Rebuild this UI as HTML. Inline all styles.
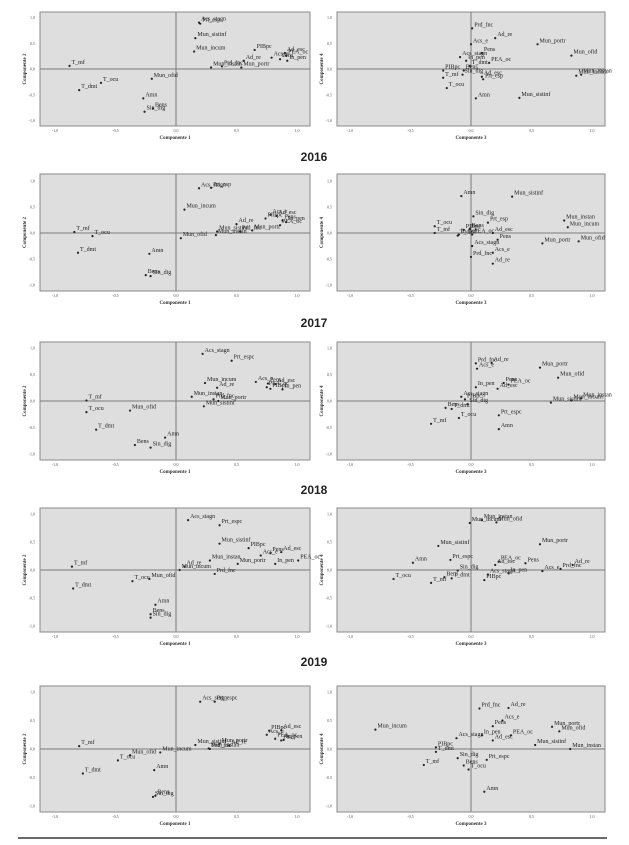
<!DOCTYPE html>
<html><head><meta charset="utf-8">
<style>
body{margin:0;background:#fff;width:629px;height:845px;overflow:hidden;font-family:"Liberation Serif",serif}
svg{position:absolute;left:0;top:0}
.yr{font-family:"Liberation Sans",sans-serif;font-weight:bold;font-size:12px;fill:#222}
</style></head><body>
<svg id="fig" width="629" height="845"></svg>
<script>
// ---- data (component loadings) ----
const p1Names=["Acs_stagn","Prt_esp","Mun_sistinf","Mun_incum","Prd_fnc","Mun_instan","Ad_re","Mun_portr","PIBpc","Acs_e","Pens","Ad_esc","PEA_oc","In_pen","T_mf","T_ocu","T_dmt","Mun_ofid","Amn","Bens","Sin_dig"];
const p1X=[0.19,0.20,0.16,0.15,0.38,0.29,0.56,0.54,0.65,0.79,0.86,0.90,0.91,0.92,-0.88,-0.62,-0.80,-0.20,-0.27,-0.19,-0.26];
const p1Y=[0.90,0.88,0.60,0.34,0.05,0.03,0.16,0.03,0.37,0.22,0.19,0.31,0.26,0.16,0.06,-0.27,-0.41,-0.19,-0.57,-0.77,-0.83];
const p2Names=["Prd_fnc","Ad_re","Acs_e","Mun_portr","Mun_ofid","Pens","Acs_stagn","In_pen","T_dmt","PEA_oc","Mun_instan","Mun_incum","PIBpc","Bens","T_mf","Sin_dig","Ad_esc","Prt_esp","T_ocu","Amn","Mun_sistinf"];
const p2X=[0.01,0.20,0.00,0.55,0.83,0.09,-0.09,-0.04,-0.01,0.15,0.91,0.87,-0.23,-0.06,-0.23,-0.07,0.09,0.10,-0.20,0.04,0.40];
const p2Y=[0.79,0.60,0.48,0.48,0.26,0.31,0.23,0.16,0.06,0.12,-0.11,-0.13,-0.03,-0.03,-0.17,-0.11,-0.15,-0.20,-0.37,-0.57,-0.56];
const p3Names=["Acs_stagn","Prt_esp","Mun_incum","Ad_re","Acs_e","Ad_esc","Pens","PIBpc","PEA_oc","In_pen","Mun_sistinf","Prd_fnc","Mun_portr","Mun_ofid","Mun_instan","T_mf","T_ocu","T_dmt","Amn","Bens","Sin_dig"];
const p3X=[0.19,0.29,0.07,0.50,0.78,0.83,0.88,0.74,0.86,0.91,0.34,0.53,0.63,0.04,0.33,-0.84,-0.69,-0.81,-0.22,-0.25,-0.21];
const p3Y=[0.86,0.87,0.45,0.17,0.35,0.33,0.24,0.28,0.15,0.21,0.03,0.03,0.05,-0.10,-0.04,0.02,-0.06,-0.38,-0.40,-0.81,-0.83];
const p4Names=["Amn","Mun_sistinf","Sin_dig","Prt_esp","T_ocu","Mun_instan","Mun_incum","PIBpc","Bens","In_pen","Ad_esc","T_mf","T_dmt","PEA_oc","Pens","Mun_portr","Mun_ofid","Acs_stagn","Acs_e","Prd_fnc","Ad_re"];
const p4X=[-0.08,0.34,0.02,0.14,-0.30,0.77,0.80,-0.06,-0.01,-0.10,0.18,-0.30,-0.11,0.01,0.22,0.59,0.89,0.01,0.18,0.00,0.18];
const p4Y=[0.71,0.70,0.32,0.20,0.13,0.24,0.11,0.06,0.08,-0.03,0.00,0.00,-0.05,-0.03,-0.13,-0.20,-0.16,-0.25,-0.38,-0.46,-0.59];
const p5Names=["Acs_stagn","Prt_espc","Mun_incum","Ad_re","Acs_e","Pens","Ad_esc","PEA_oc","PIBpc","In_pen","Mun_instan","Prd_fnc","Mun_portr","Mun_sistinf","T_mf","T_ocu","Mun_ofid","T_dmt","Amn","Bens","Sin_dig"];
const p5X=[0.22,0.46,0.24,0.34,0.66,0.76,0.82,0.75,0.78,0.88,0.13,0.31,0.35,0.23,-0.74,-0.74,-0.38,-0.66,-0.09,-0.34,-0.21];
const p5Y=[0.89,0.76,0.34,0.25,0.36,0.33,0.32,0.26,0.23,0.22,0.08,0.03,0.00,-0.10,0.01,-0.21,-0.18,-0.54,-0.69,-0.83,-0.88];
const p6Names=["Prd_fnc","Ad_re","Acs_e","Mun_portr","Mun_ofid","Pens","PEA_oc","In_pen","Ad_esc","Acs_stagn","PIBpc","Mun_instan","Mun_incum","Mun_sistinf","Bens","T_dmt","Sin_dig","Prt_espc","T_mf","T_ocu","Amn"];
const p6X=[0.04,0.17,0.05,0.57,0.72,0.27,0.31,0.04,0.22,-0.08,-0.05,0.91,0.83,0.66,-0.21,-0.16,-0.03,0.23,-0.33,-0.10,0.23];
const p6Y=[0.71,0.72,0.61,0.63,0.44,0.34,0.31,0.26,0.23,0.08,0.03,0.05,0.01,-0.03,-0.13,-0.15,-0.06,-0.27,-0.43,-0.32,-0.53];
const p7Names=["Acs_stagn","Prt_espc","Mun_sistinf","PIBpc","Acs_e","Pens","Ad_esc","PEA_oc","In_pen","Mun_instan","Ad_re","Mun_incum","Mun_portr","Prd_fnc","T_mf","T_dmt","T_ocu","Mun_ofid","Amn","Bens","Sin_dig"];
const p7X=[0.10,0.36,0.36,0.60,0.70,0.78,0.87,1.01,0.82,0.28,0.07,0.03,0.51,0.32,-0.86,-0.85,-0.36,-0.22,-0.17,-0.21,-0.21];
const p7Y=[0.89,0.80,0.47,0.39,0.26,0.30,0.32,0.17,0.11,0.17,0.06,0.00,0.11,-0.07,0.06,-0.33,-0.20,-0.16,-0.62,-0.79,-0.85];
const p8Names=["Mun_incum","Mun_ofid","Mun_instan","Mun_sistinf","Mun_portr","Amn","Prt_espc","PEA_oc","Pens","Sin_dig","Ad_esc","Acs_e","Prd_fnc","Ad_re","T_ocu","Bens","Acs_stagn","T_mf","T_dmt","PIBpc","In_pen"];
const p8X=[-0.01,0.21,0.09,-0.27,0.57,-0.48,-0.17,0.23,0.45,-0.11,0.20,0.59,0.74,0.84,-0.64,-0.22,0.14,-0.33,-0.16,0.11,0.31];
const p8Y=[0.84,0.85,0.89,0.43,0.46,0.13,0.18,0.15,0.12,-0.01,0.09,-0.02,0.02,0.09,-0.16,-0.13,-0.08,-0.23,-0.15,-0.18,-0.06];
const p9Names=["Acs_stagn","Prt_espc","PIBpc","Ad_esc","Acs_e","PEA_oc","In_pen","Pens","Mun_portr","Ad_re","Mun_sistinf","Mun_instan","Prd_fnc","Mun_incum","Mun_ofid","T_mf","T_ocu","T_dmt","Amn","Bens","Sin_dig"];
const p9X=[0.20,0.32,0.77,0.87,0.75,0.82,0.89,0.87,0.36,0.44,0.16,0.27,0.28,-0.13,-0.38,-0.80,-0.48,-0.77,-0.18,-0.17,-0.19];
const p9Y=[0.83,0.83,0.32,0.33,0.25,0.18,0.16,0.15,0.09,0.06,0.07,0.01,0.00,-0.06,-0.11,0.05,-0.20,-0.43,-0.37,-0.82,-0.84];
const p10Names=["Prd_fnc","Ad_re","Acs_e","Pens","Mun_portr","Mun_ofid","PEA_oc","Acs_stagn","In_pen","Ad_esc","Mun_sistinf","Mun_instan","Mun_incum","PIBpc","T_dmt","Sin_dig","Prt_espc","T_mf","Bens","T_ocu","Amn"];
const p10X=[0.07,0.31,0.26,0.18,0.67,0.73,0.33,-0.12,0.09,0.18,0.53,0.82,-0.79,-0.29,-0.29,-0.11,0.13,-0.39,-0.06,-0.02,0.11];
const p10Y=[0.71,0.72,0.50,0.40,0.39,0.31,0.24,0.19,0.24,0.15,0.07,0.00,0.34,0.03,-0.05,-0.16,-0.19,-0.28,-0.29,-0.36,-0.75];
const tickLabels=["-1,0","-0,5","0,0","0,5","1,0"];
const tickVals=[-1,-0.5,0,0.5,1];
const years=["2016","2017","2018","2019"];

// ---- layout ----
const NS="http://www.w3.org/2000/svg";
const svg=document.getElementById('fig');
function mk(tag,attrs,parent){const e=document.createElementNS(NS,tag);for(const k in attrs)e.setAttribute(k,attrs[k]);(parent||svg).appendChild(e);return e;}
const rows=[{top:12,bot:126,zy:69,uy:51.5},{top:174,bot:291,zy:233,uy:52},{top:342,bot:460,zy:401,uy:53},{top:508,bot:632,zy:570,uy:56},{top:686,bot:812,zy:749,uy:57}];
const cols=[{l:40,r:310,zx:176,ux:121},{l:337,r:605,zx:471,ux:121}];
const panels=[[p1Names,p1X,p1Y],[p2Names,p2X,p2Y],[p3Names,p3X,p3Y],[p4Names,p4X,p4Y],[p5Names,p5X,p5Y],[p6Names,p6X,p6Y],[p7Names,p7X,p7Y],[p8Names,p8X,p8Y],[p9Names,p9X,p9Y],[p10Names,p10X,p10Y]];
const axisNames=[["Componente 1","Componente 2"],["Componente 3","Componente 4"]];

panels.forEach((p,i)=>{
  const R=rows[Math.floor(i/2)],C=cols[i%2];
  const sx=v=>C.zx+v*C.ux, sy=v=>R.zy-v*R.uy;
  const g=mk('g',{});
  
  
  const bg=mk('rect',{x:C.l,y:R.top,width:C.r-C.l,height:R.bot-R.top,fill:'#dedede',stroke:'#8a8a8a','stroke-width':1},g);
  
  
  const hz=mk('line',{x1:C.l,x2:C.r,y1:sy(0),y2:sy(0),stroke:'#7a7a7a','stroke-width':1},g);
  
  
  const vz=mk('line',{x1:sx(0),x2:sx(0),y1:R.top,y2:R.bot,stroke:'#7a7a7a','stroke-width':1},g);
  
  
  tickVals.forEach((v,k)=>{
    const tx=mk('text',{x:sx(v),y:R.bot+6,'font-size':4,'text-anchor':'middle',fill:'#555'},g);
    tx.textContent=tickLabels[k];
    
    
    const ty=mk('text',{x:C.l-5,y:sy(v)+1.5,'font-size':4,'text-anchor':'end',fill:'#555'},g);
    ty.textContent=tickLabels[k];
    
    
  });
  const xt=mk('text',{x:(C.l+C.r)/2,y:R.bot+13,'font-size':5,'text-anchor':'middle',fill:'#333','font-weight':'bold'},g);
  xt.textContent=axisNames[i%2][0];
  
  
  const yx=C.l-14, yy=(R.top+R.bot)/2;
  const yt=mk('text',{x:yx,y:yy,'font-size':5,'text-anchor':'middle',fill:'#333','font-weight':'bold',transform:`rotate(-90 ${yx} ${yy})`},g);
  yt.textContent=axisNames[i%2][1];
  
  
  p[0].forEach((nm,k)=>{
    const cx=sx(p[1][k]), cy=sy(p[2][k]);
    const d=mk('circle',{cx:cx,cy:cy,r:1.1,fill:'#222'},g);
    
    
    const t=mk('text',{x:cx+2,y:cy-2,'font-size':6,fill:'#222'},g);
    t.textContent=nm;
    
    
  });
});
const yPos=[157,323,490,662];
years.forEach((y,k)=>{
  const t=mk('text',{x:314,y:yPos[k]+4,'text-anchor':'middle',class:'yr'});
  t.textContent=y;
  
  
});
const rule=mk('line',{x1:18,x2:607,y1:838,y2:838,stroke:'#111','stroke-width':1.2});


</script>
</body></html>
